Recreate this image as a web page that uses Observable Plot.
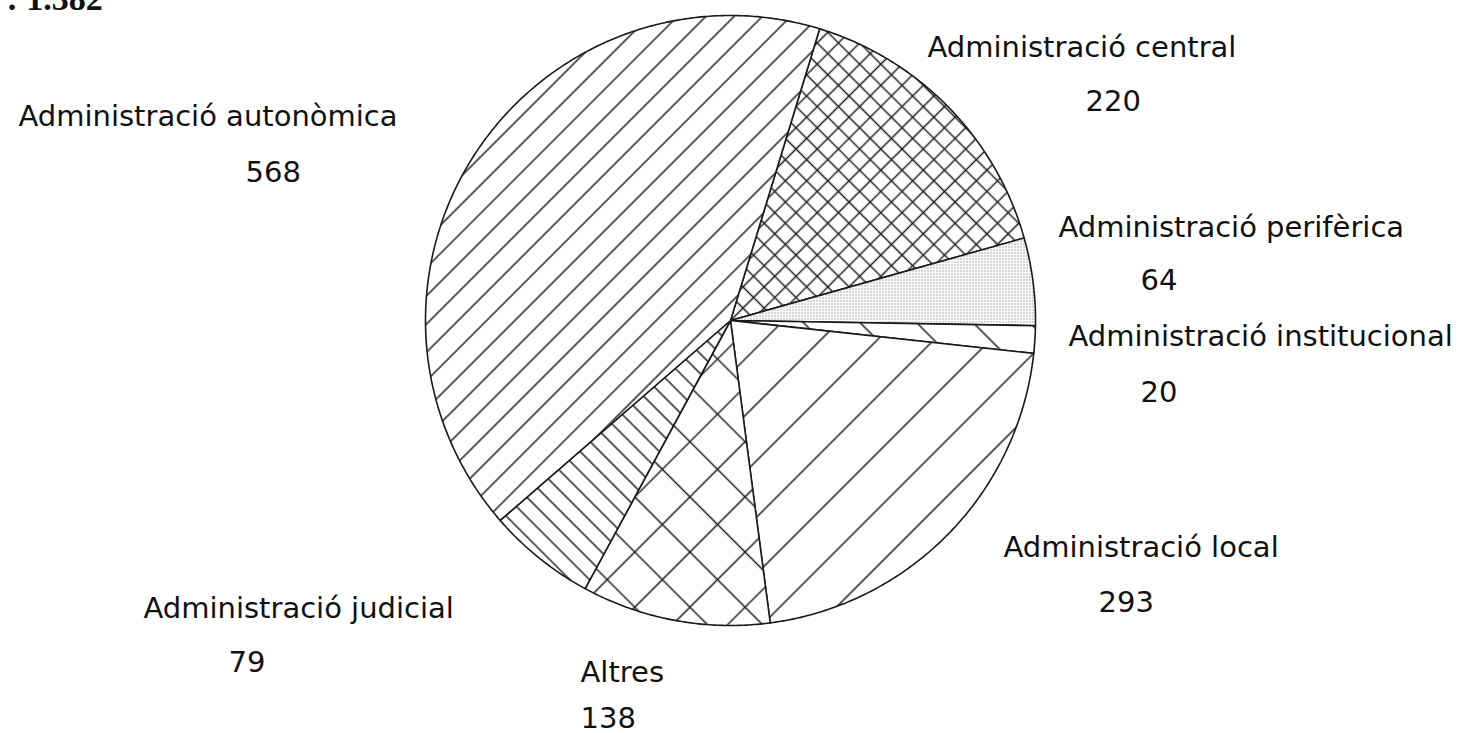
<!DOCTYPE html>
<html><head><meta charset="utf-8">
<script src="https://cdn.jsdelivr.net/npm/d3@7"></script>
<script src="https://cdn.jsdelivr.net/npm/@observablehq/plot@0.6"></script>
<style>html,body{margin:0;padding:0;background:#fff;overflow:hidden}</style>
</head><body><div id="chart"></div>
<script>
// ---- data ----
const categories = ["Administració central","Administració perifèrica","Administració institucional","Administració local","Altres","Administració judicial","Administració autonòmica"];
const values = [220, 64, 20, 293, 138, 79, 568];

// ---- layout (pixels) ----
const W = 1476, H = 733, CX = 730, CY = 320, R = 305, START = 17;
const nameAt  = [[927,56],[1058,236],[1068,345],[1003,556],[580,681],[143,617],[18,125]];
const valueAt = [[1085,110],[1140,289],[1140,401],[1098,611],[580,727],[228,671],[245,181]];
// pattern spec per slice: [spacing, angle, cross, dots]
const patSpec = [[15,45,true,false],[3,0,false,true],[40,45,false,false],[40,-45,false,false],[39,45,true,false],[14,45,false,false],[20,-45,false,false]];

const catFmt = d3.formatLocale({decimal:",", thousands:".", grouping:[3], currency:["","€"]}).format(",d");

const arcs = d3.pie().sort(null)
  .startAngle(START*Math.PI/180).endAngle((START+360)*Math.PI/180)(values);

const slices = arcs.map((p,i)=>{
  const pts = [{x:CX,y:CY}];
  const n = Math.max(2, Math.ceil((p.endAngle-p.startAngle)/(Math.PI/360)));
  for (let k=0;k<=n;k++){
    const a = p.startAngle + (p.endAngle-p.startAngle)*k/n;
    pts.push({x:CX+R*Math.sin(a), y:CY-R*Math.cos(a)});
  }
  pts.push({x:CX,y:CY});
  return pts;
});

const nameData = categories.map((c,i)=>({t:c, x:nameAt[i][0], y:nameAt[i][1]}));
const valueData = values.map((v,i)=>({t:String(v), x:valueAt[i][0], y:valueAt[i][1]}));
const totalData = [{t:": " + catFmt(d3.sum(values)), x:6, y:9}];

const svg = Plot.plot({
  width: W, height: H, margin: 0,
  x: {domain:[0,W], range:[0,W], axis:null},
  y: {domain:[0,H], range:[0,H], axis:null},
  marks: [
    ...slices.map((pts,i)=>Plot.line(pts,{x:"x", y:"y", fill:`url(#pat${i})`, stroke:"#1a1a1a", strokeWidth:1.6, strokeLinejoin:"round"})),
    Plot.text(nameData,{x:"x", y:"y", text:"t", textAnchor:"start", lineAnchor:"bottom", fontSize:29, fontFamily:"DejaVu Sans", fill:"#111"}),
    Plot.text(valueData,{x:"x", y:"y", text:"t", textAnchor:"start", lineAnchor:"bottom", fontSize:29, fontFamily:"DejaVu Sans", fill:"#111"}),
    Plot.text(totalData,{x:"x", y:"y", text:"t", textAnchor:"start", lineAnchor:"bottom", fontSize:34, fontWeight:"bold", fontFamily:"Liberation Serif", fill:"#111"})
  ]
});

const defs = d3.select(svg).insert("defs", ":first-child");
patSpec.forEach(([s, ang, cross, dots], i) => {
  const p = defs.append("pattern").attr("id", `pat${i}`).attr("patternUnits","userSpaceOnUse")
    .attr("width", s).attr("height", s).attr("patternTransform", `rotate(${ang})`);
  p.append("rect").attr("width", s).attr("height", s).attr("fill", "#fff");
  if (dots) {
    p.append("rect").attr("x",0).attr("y",0).attr("width",1).attr("height",1).attr("fill","#555");
  } else {
    p.append("line").attr("x1",0).attr("y1",s/2).attr("x2",s).attr("y2",s/2).attr("stroke","#222").attr("stroke-width",1.5);
    if (cross) p.append("line").attr("x1",s/2).attr("y1",0).attr("x2",s/2).attr("y2",s).attr("stroke","#222").attr("stroke-width",1.5);
  }
});

document.getElementById("chart").appendChild(svg);
</script>
</body></html>
